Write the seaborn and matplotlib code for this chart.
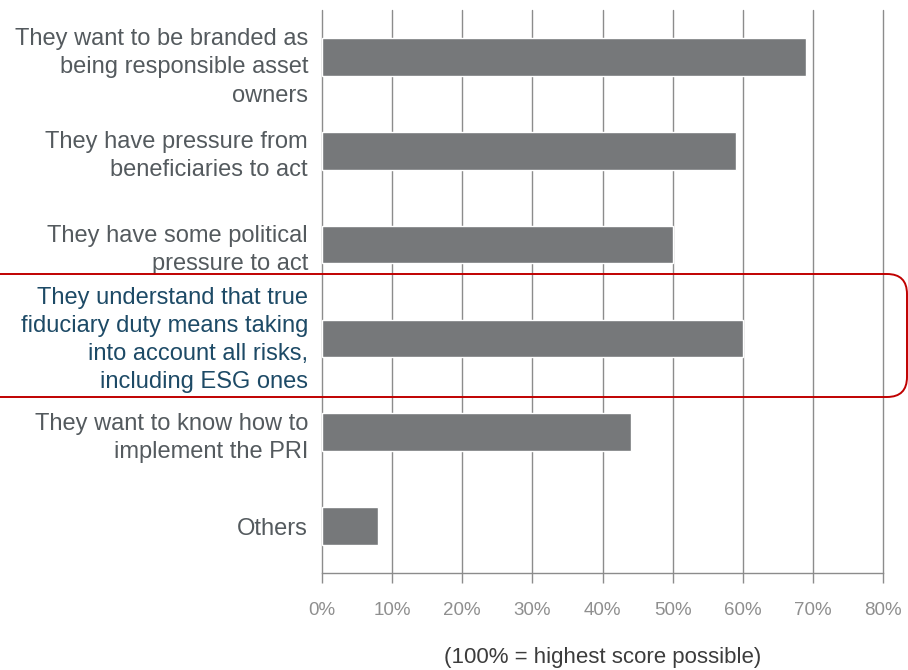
import matplotlib
matplotlib.use("Agg")
import matplotlib.pyplot as plt
import matplotlib.transforms as mtransforms
import seaborn as sns
import pandas as pd
from matplotlib.patches import FancyBboxPatch

categories = [
    "They want to be branded as\nbeing responsible asset\nowners",
    "They have pressure from\nbeneficiaries to act",
    "They have some political\npressure to act",
    "They understand that true\nfiduciary duty means taking\ninto account all risks,\nincluding ESG ones",
    "They want to know how to\nimplement the PRI",
    "Others",
]
values = [69, 59, 50, 60, 44, 8]
xticks = [0, 10, 20, 30, 40, 50, 60, 70, 80]
xtick_labels = ["0%", "10%", "20%", "30%", "40%", "50%", "60%", "70%", "80%"]
highlight_index = 3

sns.set_theme(style="white")
plt.rcParams["font.family"] = ["Liberation Sans", "DejaVu Sans"]

df = pd.DataFrame({"category": categories, "value": values})

fig = plt.figure(figsize=(9.08, 6.70), dpi=100)
ax = fig.add_axes([322 / 908, 1 - 573 / 670, (883 - 322) / 908, (573 - 10) / 670])

sns.barplot(data=df, x="value", y="category", color="#76787a", width=0.4,
            orient="h", ax=ax, saturation=1, zorder=3)

ax.set_xlim(0, 80)
ax.set_ylim(5.5, -0.5)
ax.set_xticks(xticks)
ax.set_xticklabels(xtick_labels, fontsize=13.5, color="#8f8f8f")
for x in xticks:
    ax.axvline(x, color="#8c8c8c", lw=1.0, zorder=1, clip_on=False)

for s in ["top", "right", "left"]:
    ax.spines[s].set_visible(False)
ax.spines["bottom"].set_color("#8c8c8c")
ax.spines["bottom"].set_linewidth(1.0)

ax.tick_params(axis="x", which="both", bottom=True, length=7, width=1.0,
               color="#8c8c8c", pad=14)
ax.tick_params(axis="y", length=0, pad=10)

offsets = {0: -5, 3: 4}
for i, lbl in enumerate(ax.get_yticklabels()):
    lbl.set_fontsize(17)
    lbl.set_linespacing(1.36)
    lbl.set_color("#1d4a66" if i == highlight_index else "#545a5e")
    if i in offsets:
        lbl.set_transform(lbl.get_transform() + mtransforms.ScaledTranslation(
            0, offsets[i] / 100, fig.dpi_scale_trans))

ax.set_ylabel("")
ax.set_xlabel("(100% = highest score possible)", fontsize=16, color="#3c3c3c",
              labelpad=20)

# highlight box
box = FancyBboxPatch((-40 / 908, 1 - 397 / 670), (947) / 908, (397 - 274) / 670,
                     boxstyle="round,pad=0,rounding_size=0.022",
                     mutation_aspect=1.357,
                     transform=fig.transFigure, fill=False,
                     edgecolor="#c00000", linewidth=1.4, zorder=10)
fig.patches.append(box)

fig.savefig("out.png", dpi=100)
